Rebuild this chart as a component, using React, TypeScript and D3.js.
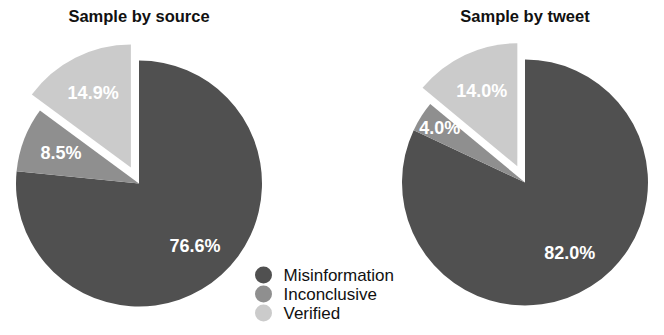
import { useMemo } from "react";
import { arc, pie, PieArcDatum } from "d3";

const WIDTH = 664;
const HEIGHT = 335;

const categories = ["Misinformation", "Inconclusive", "Verified"];
const sourceShares = [76.6, 8.5, 14.9];
const tweetShares = [82.0, 4.0, 14.0];
const chartTitles = ["Sample by source", "Sample by tweet"];
const explodedCategory = "Verified";

const COLORS = ["#505050", "#8f8f8f", "#cbcbcb"];
const FONT = "Helvetica, Arial, 'Liberation Sans', sans-serif";

const RADIUS = 123;
const EXPLODE = 18;
const CENTERS = [
  { x: 139, y: 183.5 },
  { x: 525, y: 182.5 },
];

function PieChart({ title, values, cx, cy }: { title: string; values: number[]; cx: number; cy: number }) {
  const slices = useMemo(
    () => pie<number>().sort(null).value((d) => d).startAngle(0).endAngle(Math.PI * 2)(values),
    [values]
  );
  const slicePath = arc<PieArcDatum<number>>().innerRadius(0).outerRadius(RADIUS);
  const labelArc = arc<PieArcDatum<number>>().innerRadius(RADIUS * 0.68).outerRadius(RADIUS * 0.68);
  const smallLabelArc = arc<PieArcDatum<number>>().innerRadius(RADIUS * 0.82).outerRadius(RADIUS * 0.82);

  return (
    <g>
      <text x={cx} y={21.5} textAnchor="middle" fontFamily={FONT} fontWeight="bold" fontSize={16.5} fill="#111">
        {title}
      </text>
      <g transform={`translate(${cx},${cy})`}>
        {slices.map((s, i) => {
          const mid = (s.startAngle + s.endAngle) / 2;
          const d = categories[i] === explodedCategory ? EXPLODE : 0;
          const dx = Math.sin(mid) * d;
          const dy = -Math.cos(mid) * d;
          const [lx, ly] = (s.value < 5 ? smallLabelArc : labelArc).centroid(s);
          return (
            <g key={categories[i]} transform={`translate(${dx},${dy})`}>
              <path d={slicePath(s) ?? undefined} fill={COLORS[i]} />
              <text
                x={lx}
                y={ly}
                textAnchor="middle"
                dominantBaseline="central"
                fontFamily={FONT}
                fontWeight="bold"
                fontSize={18}
                fill="#fff"
              >
                {s.value.toFixed(1)}%
              </text>
            </g>
          );
        })}
      </g>
    </g>
  );
}

export default function App() {
  return (
    <>
      <style>{"body{margin:0}"}</style>
      <svg width={WIDTH} height={HEIGHT} viewBox={`0 0 ${WIDTH} ${HEIGHT}`} style={{ display: "block", background: "#fff" }}>
        <PieChart title={chartTitles[0]} values={sourceShares} cx={CENTERS[0].x} cy={CENTERS[0].y} />
        <PieChart title={chartTitles[1]} values={tweetShares} cx={CENTERS[1].x} cy={CENTERS[1].y} />
        <g transform="translate(263.5,275)">
          {categories.map((c, i) => (
            <g key={c} transform={`translate(0,${i * 19})`}>
              <circle r={8.5} fill={COLORS[i]} />
              <text x={20} y={0} dominantBaseline="central" fontFamily={FONT} fontSize={17} fill="#111">
                {c}
              </text>
            </g>
          ))}
        </g>
      </svg>
    </>
  );
}
